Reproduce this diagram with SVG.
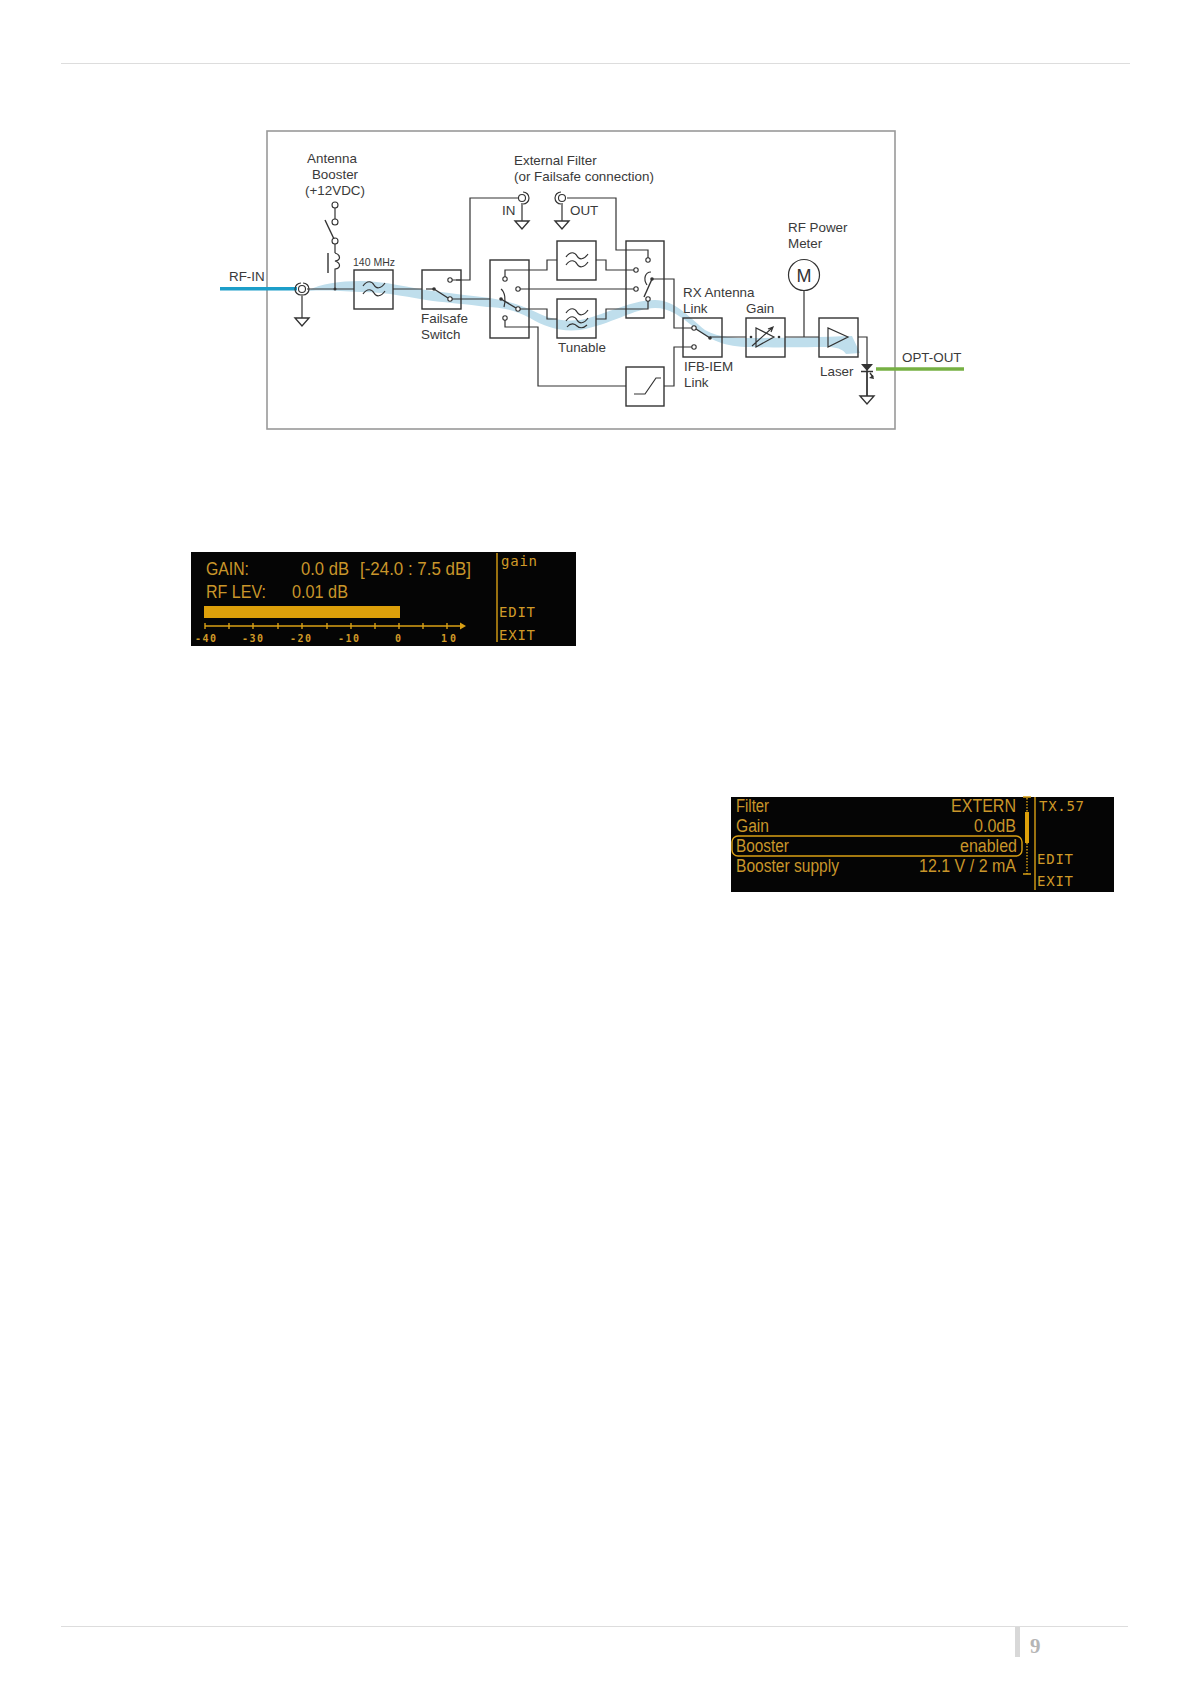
<svg xmlns="http://www.w3.org/2000/svg" width="1191" height="1684" viewBox="0 0 1191 1684">
<style>
.t{font-family:"Liberation Sans",Arial,sans-serif;font-size:13.400px;fill:#3a3a3a}
.w{fill:none;stroke:#333;stroke-width:1.2}
.b{fill:none;stroke:#333;stroke-width:1.4}
.c{fill:#fff;stroke:#333;stroke-width:1.1}
.d{fill:#333}
.l{font-family:"Liberation Sans",Arial,sans-serif;font-size:18px;fill:#c9962a}
.m{font-family:"DejaVu Sans Mono",monospace;font-size:14px;fill:#d09a28}
.s{font-family:"DejaVu Sans Mono",monospace;font-size:10px;font-weight:bold;fill:#d09a28}
.a{fill:none;stroke:#d9a015;stroke-width:1.4}
</style>
<defs>
<g id="gnd"><path class="b" d="M-7 0H7L0 8Z"/></g>
<g id="lpf"><path class="w" d="M-11 -3C-7 -9 -2 -8 0 -4S7 0 11 -6M-11 5C-7 -1 -2 0 0 4S7 8 11 2"/></g>
</defs>
<rect width="1191" height="1684" fill="#fff"/>
<path d="M61 63.500H1130M61 1626.500H1128" stroke="#ddd" stroke-width="1" fill="none"/>
<rect x="1015" y="1627" width="5" height="30" fill="#d8d8d8"/>
<text x="1030" y="1653" style="font-family:'Liberation Serif',serif;font-size:21px;font-weight:bold;fill:#b5b5b5">9</text>

<rect id="frame" x="267" y="131" width="628" height="298" fill="#fff" stroke="#999" stroke-width="1.6"/>

<path id="flow" fill="#bfdeec" d="M309 290C320 284 340 281 360 281C385 281 410 288 433 291C455 294 475 296 490 298C510 301 525 307 540 314C555 321 570 321 580 320C600 317 630 300 655 300C675 300 690 318 705 330C720 338 735 338 750 338C780 338 820 337 852 336L860 353L846 354C843 350 840 348 830 347C800 347 770 348 750 347C725 347 710 340 695 328C680 316 670 308 655 308C635 308 610 325 580 330C560 332 545 327 530 318C515 310 500 307 487 307C465 304 450 303 433 301C410 298 390 292 360 292C340 291 325 290 309 291Z"/>

<g id="connectors">
<path d="M220 288.700H297" stroke="#1c9ec9" stroke-width="3.500" fill="none"/>
<path d="M876 369H964" stroke="#76b043" stroke-width="3.500" fill="none"/>
<path class="w" d="M307 289H354M393 289H422M335 289V273M335 253V244"/>
<path class="w" d="M302 294V318M522 203V221M562 203V221"/>
<path class="w" d="M456 280H470V198H518M461 299H490"/>
<path class="w" d="M567 198H616V250H626"/>
<path class="w" d="M529 270H547V260H557M596 260H606V270H626"/>
<path class="w" d="M529 289H626"/>
<path class="w" d="M529 309H547V319H557M596 319H606V309H626"/>
<path class="w" d="M529 327H538V386H626"/>
<path class="w" d="M664 386H674V347H683"/>
<path class="w" d="M664 279H674V328H683"/>
<path class="w" d="M722 337H746M785 337H819M804 291V337"/>
<path class="w" d="M858 337H867V396"/>
</g>

<g id="rf-in-connector"><circle class="c" cx="302" cy="289" r="3.500"/><path class="w" d="M303 283A6 6 0 1 1 303 295"/><path class="w" d="M301 283A6 6 0 0 0 301 295"/><use href="#gnd" x="302" y="318"/></g>
<g id="booster"><circle class="c" cx="335" cy="205" r="3"/><circle class="c" cx="335" cy="222" r="3"/><circle class="c" cx="335" cy="241" r="3"/><path class="w" d="M335 208V219"/><path class="b" d="M325 220L334 239"/><path class="b" d="M328 253V273"/><path class="w" d="M335 253C341 255 341 260 335 261C341 263 341 268 335 269V273"/><circle class="d" cx="335" cy="289" r="1.500"/></g>
<g id="filter-140"><rect class="b" x="354" y="270" width="39" height="39"/><use href="#lpf" x="374" y="289"/></g>
<g id="failsafe"><rect class="b" x="422" y="270" width="39" height="39"/><circle class="c" cx="450" cy="280" r="2.200"/><circle class="c" cx="450" cy="299" r="2.200"/><circle class="d" cx="434" cy="289" r="1.800"/><path class="w" d="M426 289H434"/><path class="b" d="M434 289L448 298"/><path class="w" d="M452 299H461M452 280H461"/></g>
<g id="switch-left"><rect class="b" x="490" y="260" width="39" height="78"/><circle class="c" cx="505" cy="279" r="2.200"/><circle class="c" cx="518" cy="289" r="2.200"/><circle class="c" cx="518" cy="309" r="2.200"/><circle class="c" cx="505" cy="318" r="2.200"/><circle class="d" cx="501" cy="299" r="1.800"/><path class="w" d="M505 277V270H529M520 289H529M520 309H529M505 320V327H529"/><path class="b" d="M501 299L516 308"/><path class="w" d="M501 289C505 292 506 300 504 307"/></g>
<g id="filter-ext"><rect class="b" x="557" y="241" width="39" height="39"/><use href="#lpf" x="577" y="260"/></g>
<g id="filter-tunable"><rect class="b" x="557" y="299" width="39" height="39"/><use href="#lpf" x="577" y="316"/><path class="w" d="M567 327C571 322 575 324 577 326S583 329 587 325"/></g>
<g id="switch-right"><rect class="b" x="626" y="241" width="38" height="77"/><circle class="c" cx="648" cy="260" r="2.200"/><circle class="c" cx="636" cy="270" r="2.200"/><circle class="c" cx="636" cy="289" r="2.200"/><circle class="c" cx="648" cy="299" r="2.200"/><circle class="d" cx="652" cy="279" r="1.800"/><path class="w" d="M626 250H648V258M626 270H634M626 289H634M626 309H648V301M652 279H664"/><path class="b" d="M652 279L644 297"/><path class="w" d="M651 272C645 272 643 279 647 285"/></g>
<g id="ext-in"><circle class="c" cx="522" cy="198" r="3.500"/><path class="w" d="M523 192A6 6 0 1 1 523 204"/><use href="#gnd" x="522" y="221"/></g>
<g id="ext-out"><circle class="c" cx="562" cy="198" r="3.500"/><path class="w" d="M561 192A6 6 0 1 0 561 204"/><use href="#gnd" x="562" y="221"/></g>
<g id="ramp"><rect class="b" x="626" y="367" width="38" height="39"/><path class="w" d="M634 394H645L656 378H661"/></g>
<g id="rx-switch"><rect class="b" x="683" y="318" width="39" height="39"/><circle class="c" cx="694" cy="328" r="2.200"/><circle class="c" cx="694" cy="347" r="2.200"/><circle class="d" cx="710" cy="338" r="1.800"/><path class="w" d="M683 328H692M683 347H692M710 337H722"/><path class="b" d="M696 329L710 338"/></g>
<g id="gain"><rect class="b" x="746" y="318" width="39" height="39"/><path class="w" d="M756 328V347L774 337ZM752 346L772 328M768 329L773 327L771 332"/><circle class="d" cx="751" cy="337" r="1.300"/><circle class="d" cx="779" cy="337" r="1.300"/></g>
<g id="meter"><circle cx="804" cy="275" r="15.500" fill="#fff" stroke="#333" stroke-width="1.200"/><text x="804" y="281.500" text-anchor="middle" style="font-family:'Liberation Sans',sans-serif;font-size:18px;fill:#333">M</text></g>
<g id="laser"><rect class="b" x="819" y="318" width="39" height="39"/><path class="w" d="M828 328V347L848 337Z"/></g>
<g id="diode"><path class="d" d="M861 364H873L867 371Z"/><path class="b" d="M861 371.500H873M867 372V396M870 373L873 377"/><path class="d" d="M874 379L869 378L873 375Z"/><use href="#gnd" x="867" y="396"/></g>

<g id="labels">
<text class="t" x="332" y="163" text-anchor="middle">Antenna</text>
<text class="t" x="335" y="179" text-anchor="middle">Booster</text>
<text class="t" x="335" y="195" text-anchor="middle">(+12VDC)</text>
<text class="t" x="353" y="266" style="font-size:10.500px">140 MHz</text>
<text class="t" x="229" y="281">RF-IN</text>
<text class="t" x="421" y="323">Failsafe</text>
<text class="t" x="421" y="339">Switch</text>
<text class="t" x="514" y="165">External Filter</text>
<text class="t" x="514" y="181">(or Failsafe connection)</text>
<text class="t" x="502" y="215">IN</text>
<text class="t" x="570" y="215">OUT</text>
<text class="t" x="558" y="352">Tunable</text>
<text class="t" x="683" y="297">RX Antenna</text>
<text class="t" x="683" y="313">Link</text>
<text class="t" x="746" y="313">Gain</text>
<text class="t" x="684" y="371">IFB-IEM</text>
<text class="t" x="684" y="387">Link</text>
<text class="t" x="788" y="232">RF Power</text>
<text class="t" x="788" y="248">Meter</text>
<text class="t" x="820" y="376">Laser</text>
<text class="t" x="902" y="362">OPT-OUT</text>
</g>

<g id="lcd-gain">
<rect x="191" y="552" width="385" height="94" fill="#050505"/>
<text class="l" x="206" y="575" textLength="43" lengthAdjust="spacingAndGlyphs">GAIN:</text>
<text class="l" x="301" y="575" textLength="48" lengthAdjust="spacingAndGlyphs">0.0 dB</text>
<text class="l" x="360" y="575" textLength="111" lengthAdjust="spacingAndGlyphs">[-24.0 :  7.5 dB]</text>
<text class="l" x="206" y="598" textLength="60" lengthAdjust="spacingAndGlyphs">RF LEV:</text>
<text class="l" x="292" y="598" textLength="56" lengthAdjust="spacingAndGlyphs">0.01 dB</text>
<rect x="204" y="606" width="196" height="12" fill="#dda00a"/>
<path class="a" d="M205 626H462M205 623V629M229 623V629M253 623V629M278 623V629M302 623V629M327 623V629M351 623V629M375 623V629M399 623V629M423 623V629M447 623V629"/>
<path d="M460 622.500L466 626L460 629.500Z" fill="#d9a015"/>
<text class="s" x="195" y="642" textLength="21">-40</text><text class="s" x="242" y="642" textLength="21">-30</text><text class="s" x="290" y="642" textLength="21">-20</text><text class="s" x="338" y="642" textLength="21">-10</text><text class="s" x="395" y="642">0</text><text class="s" x="441" y="642" textLength="15">10</text>
<path class="a" d="M497 553V642"/>
<text class="m" x="501" y="566" textLength="36">gain</text>
<text class="m" x="499" y="617" textLength="36">EDIT</text>
<text class="m" x="499" y="640" textLength="36">EXIT</text>
</g>

<g id="lcd-booster">
<rect x="731" y="797" width="383" height="95" fill="#050505"/>
<text class="l" x="736" y="812" textLength="33" lengthAdjust="spacingAndGlyphs">Filter</text>
<text class="l" x="951" y="812" textLength="65" lengthAdjust="spacingAndGlyphs">EXTERN</text>
<text class="l" x="736" y="832" textLength="33" lengthAdjust="spacingAndGlyphs">Gain</text>
<text class="l" x="974" y="832" textLength="42" lengthAdjust="spacingAndGlyphs">0.0dB</text>
<rect x="732" y="836" width="290" height="20" rx="6" class="a"/>
<text class="l" x="736" y="852" textLength="53" lengthAdjust="spacingAndGlyphs">Booster</text>
<text class="l" x="960" y="852" textLength="57" lengthAdjust="spacingAndGlyphs">enabled</text>
<text class="l" x="736" y="872" textLength="103" lengthAdjust="spacingAndGlyphs">Booster supply</text>
<text class="l" x="919" y="872" textLength="97" lengthAdjust="spacingAndGlyphs">12.1 V / 2 mA</text>
<path class="a" d="M1027 798V874" stroke-dasharray="1.500 1.500"/>
<path class="a" d="M1023 797H1031M1023 874H1031"/>
<rect x="1025" y="812" width="4" height="31" fill="#dda00a"/>
<path class="a" d="M1035 797V890"/>
<text class="m" x="1039" y="811" textLength="45">TX.57</text>
<text class="m" x="1037" y="864" textLength="36">EDIT</text>
<text class="m" x="1037" y="886" textLength="36">EXIT</text>
</g>
</svg>
